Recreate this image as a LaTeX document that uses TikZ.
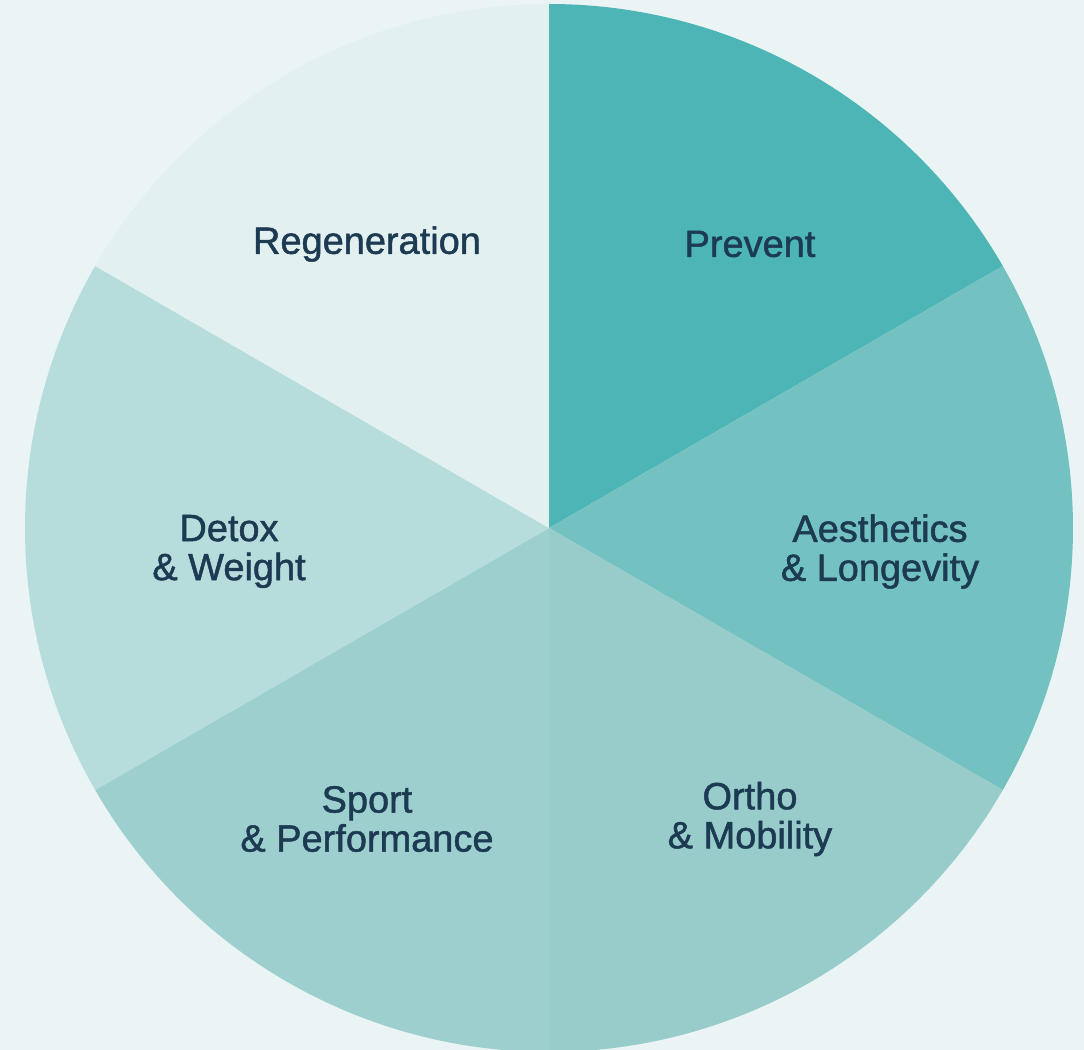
\documentclass[tikz,border=0pt]{standalone}
\usepackage{fontspec}
\setmainfont{Liberation Sans}
\newfontfamily\lblfont[FakeBold=1.3]{Liberation Sans}
\definecolor{bgc}{HTML}{EAF4F4}
\definecolor{cprev}{HTML}{4DB5B5}
\definecolor{caest}{HTML}{74C1C1}
\definecolor{cortho}{HTML}{97CCCB}
\definecolor{csport}{HTML}{9ECFCF}
\definecolor{cdetox}{HTML}{B6DCDC}
\definecolor{cregen}{HTML}{E3F0F0}
\definecolor{txt}{HTML}{1C3A52}
\begin{document}
\begin{tikzpicture}[
  lbl/.style={text=txt, align=center, inner sep=0pt,
    font=\lblfont\fontsize{10.8}{11.1}\selectfont}
]
\useasboundingbox (0,0) rectangle (10.84,10.50);
\fill[bgc] (0,0) rectangle (10.84,10.50);
\coordinate (c) at (5.49,5.22);
\def\R{5.24cm}
\fill[cprev]  (c) -- ++(30:\R)  arc[start angle=30,  end angle=90,  radius=\R] -- cycle;
\fill[caest]  (c) -- ++(-30:\R) arc[start angle=-30, end angle=30,  radius=\R] -- cycle;
\fill[cortho] (c) -- ++(-90:\R) arc[start angle=-90, end angle=-30, radius=\R] -- cycle;
\fill[csport] (c) -- ++(210:\R) arc[start angle=210, end angle=270, radius=\R] -- cycle;
\fill[cdetox] (c) -- ++(150:\R) arc[start angle=150, end angle=210, radius=\R] -- cycle;
\fill[cregen] (c) -- ++(90:\R)  arc[start angle=90,  end angle=150, radius=\R] -- cycle;
\node[lbl] (regen) at (3.67,8.06) {Regeneration};
\node[lbl] (prev)  at (7.50,8.06) {Prevent};
\node[lbl] (detox) at (2.29,4.985) {Detox\\\& Weight};
\node[lbl] (aest)  at (8.80,4.985) {Aesthetics\\\& Longevity};
\node[lbl] (sport) at (3.67,2.31) {Sport\\\& Performance};
\node[lbl] (ortho) at (7.50,2.31) {Ortho\\\& Mobility};
\end{tikzpicture}
\end{document}
